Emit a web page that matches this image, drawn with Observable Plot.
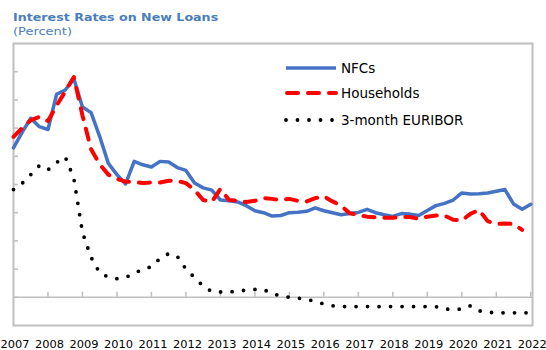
<!DOCTYPE html>
<html><head><meta charset="utf-8">
<script src="https://cdn.jsdelivr.net/npm/d3@7"></script>
<script src="https://cdn.jsdelivr.net/npm/@observablehq/plot@0.6"></script>
<style>
body{margin:0;background:#fff;font-family:"DejaVu Sans",sans-serif;}
#hdr{height:40px;position:relative;width:546px;}
#t1,#t2{position:absolute;left:13px;color:#4a7ebb;font-size:11px;line-height:13px;white-space:nowrap;transform-origin:0 0;transform:scaleX(1.15);}
#t1{top:11px;font-weight:bold;}
#t2{top:25px;transform:scaleX(1.18);}
svg{display:block;}
</style></head>
<body>
<div id="hdr"><div id="t1">Interest Rates on New Loans</div><div id="t2">(Percent)</div></div>
<div id="chart"></div>
<script>
// Quarterly observations, 2007Q1 onward
const yearTicks = [2007,2008,2009,2010,2011,2012,2013,2014,2015,2016,2017,2018,2019,2020,2021,2022];
const yTicks = [0,1,2,3,4,5,6,7,8];
const seriesNames = ["NFCs","Households","3-month EURIBOR"];

const nfc = [
  5.30,5.85,6.35,6.05, 5.95,7.20,7.35,7.75, 6.75,6.55,5.70,4.75,
  4.35,4.02,4.82,4.70, 4.62,4.82,4.80,4.60, 4.50,4.05,3.88,3.80,
  3.45,3.42,3.38,3.25, 3.07,3.00,2.88,2.90, 3.00,3.02,3.05,3.17,
  3.07,3.00,2.93,2.97, 3.01,3.12,3.00,2.93, 2.87,2.97,2.95,2.90,
  3.08,3.25,3.33,3.45, 3.70,3.66,3.67,3.70, 3.76,3.82,3.31,3.12,
  3.30
];
const households = [
  5.69,6.00,6.28,6.40, 6.25,6.80,7.30,7.81, 6.45,5.25,4.72,4.35,
  4.20,4.10,4.10,4.05, 4.07,4.07,4.13,4.13, 4.05,3.80,3.45,3.38,
  3.84,3.45,3.43,3.38, 3.42,3.52,3.49,3.45, 3.49,3.42,3.40,3.52,
  3.58,3.40,3.25,2.98, 2.92,2.86,2.84,2.82, 2.82,2.85,2.85,2.78,
  2.86,2.90,2.90,2.75, 2.72,2.96,3.10,2.70, 2.60,2.62,2.60,2.39
];
const euribor = [
  3.82,4.04,4.35,4.67, 4.52,4.78,4.98,4.22, 2.30,1.42,0.86,0.72,
  0.66,0.70,0.85,1.00, 1.08,1.38,1.55,1.45, 1.00,0.70,0.40,0.20,
  0.19,0.19,0.22,0.25, 0.28,0.28,0.12,0.06, 0.00,-0.03,-0.07,-0.15,
  -0.24,-0.30,-0.33,-0.33, -0.33,-0.33,-0.33,-0.33, -0.33,-0.33,-0.33,-0.33,
  -0.33,-0.33,-0.42,-0.42, -0.42,-0.30,-0.48,-0.53, -0.55,-0.55,-0.55,-0.55,
  -0.55
];

const toRows = (vals) => vals.map((v, i) => ({t: 2007 + i / 4, v}));

const colors = {"NFCs": "#4472c4", "Households": "#ff0000", "3-month EURIBOR": "#000000"};

const plot = Plot.plot({
  width: 546, height: 310,
  marginTop: 3, marginLeft: 13, marginRight: 14, marginBottom: 25,
  x: {domain: [2007, 2022.05]},
  y: {domain: [-1, 9]},
  style: {fontFamily: "DejaVu Sans, sans-serif", fontSize: "10.5px", color: "#000", background: "#fff"},
  marks: [
    Plot.ruleY([0], {stroke: "#bfbfbf", strokeWidth: 1.5}),
    Plot.ruleX(yearTicks.slice(1), {x: d => d, y1: 0, y2: 0.18, stroke: "#bfbfbf", strokeWidth: 1.5}),
    Plot.axisY({ticks: yTicks, tickSize: -5, tickFormat: () => "", stroke: "#bfbfbf", strokeWidth: 1.5, label: null}),
    Plot.axisX({ticks: yearTicks, tickFormat: d => String(d), tickSize: 0, tickPadding: 15, dx: 1.5, label: null, fill: "#000"}),
    Plot.frame({stroke: "#bfbfbf", strokeWidth: 2}),
    Plot.line(toRows(nfc), {x: "t", y: "v", stroke: colors["NFCs"], strokeWidth: 3.5, strokeLinejoin: "round"}),
    Plot.line(toRows(households), {x: "t", y: "v", stroke: colors["Households"], strokeWidth: 4, strokeDasharray: "11,10", strokeLinecap: "round", strokeLinejoin: "round"}),
    Plot.line(toRows(euribor), {x: "t", y: "v", stroke: colors["3-month EURIBOR"], strokeWidth: 3.8, strokeDasharray: "0,11.5", strokeLinecap: "round"})
  ]
});

document.getElementById("chart").appendChild(plot);
const svg = d3.select(plot);
svg.selectAll("text").filter(function(){ return this.textContent === ""; }).remove();
svg.selectAll('[aria-label="x-axis tick label"] text')
  .attr("textLength", 29).attr("lengthAdjust", "spacingAndGlyphs");

// Legend (inside plot area)
const legendStyles = {
  "NFCs": {dash: null, w: 3.5, cap: "butt"},
  "Households": {dash: "11,10", w: 4, cap: "round"},
  "3-month EURIBOR": {dash: "0,11.5", w: 3.8, cap: "round"}
};
const lg = svg.append("g").attr("class", "legend").attr("text-anchor", "start");
seriesNames.forEach((name, i) => {
  const yy = [28, 53, 80][i];
  const s = legendStyles[name];
  lg.append("line").attr("x1", name === "Households" ? 287 : 286).attr("x2", 336).attr("y1", yy).attr("y2", yy)
    .attr("stroke", colors[name]).attr("stroke-width", s.w)
    .attr("stroke-dasharray", s.dash).attr("stroke-linecap", s.cap);
  lg.append("text").attr("x", 341).attr("y", yy + 4.8).attr("text-anchor", "start")
    .attr("font-family", "DejaVu Sans, sans-serif").attr("font-size", 13.5).attr("fill", "#000")
    .text(name);
});
</script>
</body></html>
